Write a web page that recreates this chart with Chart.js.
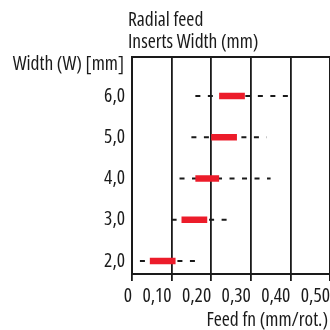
<!DOCTYPE html>
<html>
<head>
<meta charset="utf-8">
<script src="https://cdn.jsdelivr.net/npm/chart.js@4"></script>
<style>
  body { margin: 0; background: #fff; }
  canvas { display: block; }
</style>
</head>
<body>
<canvas id="chart" width="330" height="330"></canvas>
<script>
// insert widths (mm) and feed ranges (mm/rot.)
const widths = [2, 3, 4, 5, 6];
const yTickLabels = ['2,0', '3,0', '4,0', '5,0', '6,0'];
const xTickLabels = ['0', '0,10', '0,20', '0,30', '0,40', '0,50'];
const feedMin = [0.02, 0.10, 0.12, 0.15, 0.16];
const feedMax = [0.17, 0.25, 0.35, 0.34, 0.40];
const recMin = [0.045, 0.125, 0.16, 0.20, 0.22];
const recMax = [0.11, 0.19, 0.22, 0.265, 0.285];

const FAMILY = '"Open Sans", sans-serif';
const SIZE = 19.5;
const INK = '#1a1a1a';
const RED = '#ec1c2a';
// "condensed" goes in the weight slot so it lands before the size in the font string
const tickFont = { family: FAMILY, size: SIZE, weight: 'condensed' };

const datasets = [];
widths.forEach((w, i) => {
    datasets.push({
        data: [{ x: feedMin[i], y: w }, { x: feedMax[i], y: w }],
        showLine: true,
        borderColor: INK,
        borderWidth: 1.8,
        borderDash: [5, 7.5],
        pointRadius: 0,
        order: 2
    });
    datasets.push({
        data: [{ x: recMin[i], y: w }, { x: recMax[i], y: w }],
        showLine: true,
        borderColor: RED,
        borderWidth: 6.5,
        borderCapStyle: 'butt',
        pointRadius: 0,
        order: 1
    });
});

// texts that are not axis tick labels
const labelsPlugin = {
    id: 'labels',
    afterDraw(chart) {
        const ctx = chart.ctx;
        const area = chart.chartArea;
        ctx.save();
        ctx.fillStyle = INK;
        ctx.font = 'condensed ' + SIZE + 'px ' + FAMILY;
        ctx.textBaseline = 'alphabetic';
        ctx.textAlign = 'left';
        ctx.fillText('Radial feed', area.left - 4, 26);
        ctx.fillText('Inserts Width (mm)', area.left - 4, 48);
        ctx.textAlign = 'right';
        ctx.fillText('Width (W) [mm]', area.left - 8, 70);
        ctx.fillText('Feed fn (mm/rot.)', area.right - 2, 326);
        ctx.restore();
    }
};

new Chart(document.getElementById('chart'), {
    type: 'scatter',
    data: { datasets: datasets },
    plugins: [labelsPlugin],
    options: {
        responsive: false,
        animation: false,
        layout: { padding: { top: 57, left: 0, right: 0, bottom: 0 } },
        plugins: { legend: { display: false }, tooltip: { enabled: false } },
        scales: {
            x: {
                type: 'linear',
                min: 0,
                max: 0.5,
                afterFit: (scale) => {
                    scale.height = 56;
                    scale.paddingLeft = 0;
                    scale.paddingRight = 0;
                },
                afterBuildTicks: (scale) => {
                    scale.ticks = xTickLabels.map((t, i) => ({ value: i / 10 }));
                },
                border: { color: INK, width: 2 },
                grid: { color: INK, lineWidth: 1.8, tickLength: 7 },
                ticks: {
                    align: 'end',
                    maxRotation: 0,
                    padding: 4,
                    color: INK,
                    font: tickFont,
                    callback: (v, i) => xTickLabels[i]
                }
            },
            y: {
                type: 'linear',
                min: 1.685,
                max: 6.945,
                afterFit: (scale) => {
                    scale.width = 132;
                    scale.paddingTop = 0;
                    scale.paddingBottom = 0;
                },
                afterBuildTicks: (scale) => {
                    scale.ticks = widths.map(w => ({ value: w })).concat([{ value: 6.945 }]);
                },
                border: { color: INK, width: 2 },
                grid: {
                    drawTicks: false,
                    lineWidth: 2,
                    color: (c) => (c.tick && c.tick.value === 6.945) ? INK : 'rgba(0,0,0,0)'
                },
                ticks: {
                    padding: 7,
                    color: INK,
                    font: tickFont,
                    callback: (v, i) => (i < yTickLabels.length ? yTickLabels[i] : '')
                }
            }
        }
    }
});
</script>
</body>
</html>
